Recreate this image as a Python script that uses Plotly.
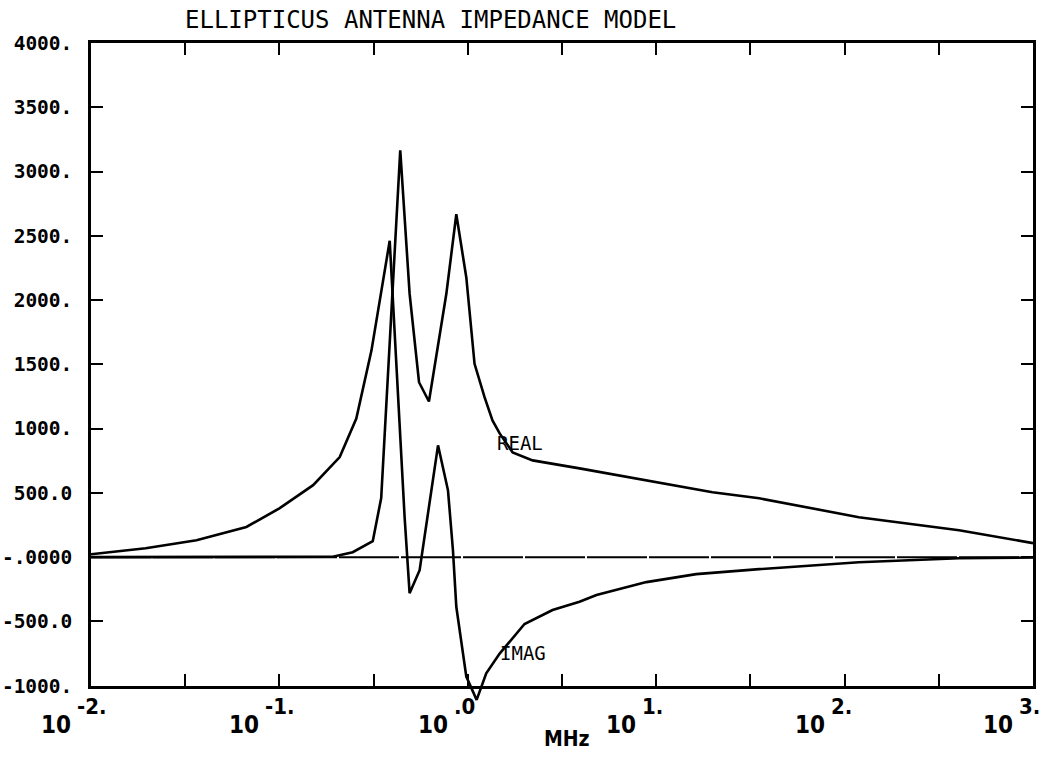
import math
import plotly.graph_objects as go

# ---------------- data ----------------
real_freq = [0.01, 0.1, 0.192, 0.245, 0.313, 0.347, 0.438, 0.491, 0.551, 0.622,
             0.769, 0.869, 0.982, 1.086, 1.227, 1.352, 1.476, 1.73, 2.208, 3.917,
             10.0, 19.9, 35.2, 119.0, 405.0, 1000.0]
real_vals = [0, 1, 3, 39, 124, 460, 3165, 2050, 1361, 1211,
             2047, 2668, 2176, 1504, 1245, 1064, 963, 815, 753, 691,
             582, 505, 458, 311, 210, 109]

imag_freq = [0.01, 0.0195, 0.0363, 0.0668, 0.1, 0.151, 0.209, 0.256, 0.308, 0.340,
             0.385, 0.462, 0.491, 0.555, 0.695, 0.785, 0.834, 0.869, 0.982, 1.114,
             1.253, 1.476, 2.0, 2.818, 3.917, 4.82, 8.87, 16.3, 35.2, 119.0,
             405.0, 1000.0]
imag_vals = [23, 70, 132, 235, 380, 560, 779, 1079, 1607, 1995,
             2461, 311, -280, -101, 870, 520, 54, -386, -929, -1110,
             -903, -750, -520, -411, -347, -295, -194, -132, -93, -39,
             -8, -3]

y_tick_vals = [4000, 3500, 3000, 2500, 2000, 1500, 1000, 500, 0, -500, -1000]
y_tick_text = ["4000.", "3500.", "3000.", "2500.", "2000.", "1500.", "1000.",
               "500.0", "-.0000", "-500.0", "-1000."]

x_decades = [-2, -1, 0, 1, 2, 3]
x_decade_sup = ["-2.", "-1.", ".0", "1.", "2.", "3."]
x_tick_vals = [10 ** (e / 2) for e in range(-4, 7)]  # half-decade ticks

title_text = "ELLIPTICUS ANTENNA IMPEDANCE MODEL"
x_title = "MHz"
series_labels = [("REAL", 1.40, 885), ("IMAG", 1.45, -745)]

Y_MIN, Y_MAX = -1000, 4000      # framed axis range
Y_DRAW_MIN = -1150              # curves may run below the frame

# ---------------- figure ----------------
MONO = "DejaVu Sans Mono, Liberation Mono, monospace"
NARROW = "Liberation Sans Narrow, DejaVu Sans Condensed, Roboto, sans-serif"

fig = go.Figure()
for fx, fy, nm in [(real_freq, real_vals, "REAL"), (imag_freq, imag_vals, "IMAG")]:
    fig.add_trace(go.Scatter(x=fx, y=fy, mode="lines", name=nm,
                             xaxis="x", yaxis="y2",
                             line=dict(color="black", width=2.6)))

# zero line (slightly broken plotter line)
fig.add_shape(type="line", xref="paper", yref="y", x0=0, x1=1, y0=0, y1=0,
              line=dict(color="black", width=2, dash="60px,2px"), layer="above")

annotations = []
for e, s in zip(x_decades, x_decade_sup):
    # base "10"
    annotations.append(dict(
        x=e, y=Y_MIN, xref="x", yref="y", xanchor="right", yanchor="middle",
        xshift=-18, yshift=-39, showarrow=False, text="10",
        font=dict(family=NARROW, size=24, color="black", weight="bold")))
    # raised exponent
    annotations.append(dict(
        x=e, y=Y_MIN, xref="x", yref="y", xanchor="left", yanchor="middle",
        xshift=-16, yshift=-21, showarrow=False, text=s,
        font=dict(family=NARROW, size=22, color="black", weight="bold")))
annotations.append(dict(
    x=0.505, y=Y_MIN, xref="paper", yref="y", xanchor="center", yanchor="middle",
    yshift=-53, showarrow=False, text=x_title,
    font=dict(family=NARROW, size=21, color="black", weight="bold")))
for lab, fx, fv in series_labels:
    annotations.append(dict(
        x=math.log10(fx), y=fv, xref="x", yref="y", xanchor="left", yanchor="middle",
        showarrow=False, text=lab,
        font=dict(family=MONO, size=19, color="black")))
annotations.append(dict(
    x=0.36, y=1, xref="paper", yref="paper", xanchor="center", yanchor="bottom",
    yshift=7, showarrow=False, text=title_text,
    font=dict(family=MONO, size=24, color="black")))

frac = (Y_MIN - Y_DRAW_MIN) / (Y_MAX - Y_DRAW_MIN)

fig.update_layout(
    width=1052, height=759,
    margin=dict(l=91, r=19, t=43, b=54, pad=0, autoexpand=False),
    paper_bgcolor="white", plot_bgcolor="rgba(0,0,0,0)",
    showlegend=False,
    annotations=annotations,
    xaxis=dict(type="log", range=[-2, 3], showgrid=False, zeroline=False,
               anchor="y", automargin=False,
               showline=True, linecolor="black", linewidth=2.5, mirror="ticks",
               ticks="inside", ticklen=12, tickwidth=2, tickcolor="black",
               tickvals=x_tick_vals, showticklabels=False),
    yaxis=dict(range=[Y_MIN, Y_MAX], domain=[frac, 1], anchor="x",
               automargin=False, showgrid=False, zeroline=False,
               showline=True, linecolor="black", linewidth=2.5, mirror="ticks",
               ticks="inside", ticklen=12, tickwidth=2, tickcolor="black",
               tickvals=y_tick_vals, ticktext=y_tick_text, ticklabelstandoff=12,
               tickfont=dict(family=MONO, size=19.5, color="black", weight="bold")),
    yaxis2=dict(range=[Y_DRAW_MIN, Y_MAX], domain=[0, 1], anchor="x",
                automargin=False, visible=False, showgrid=False, zeroline=False),
)

fig.write_html("out.html")
